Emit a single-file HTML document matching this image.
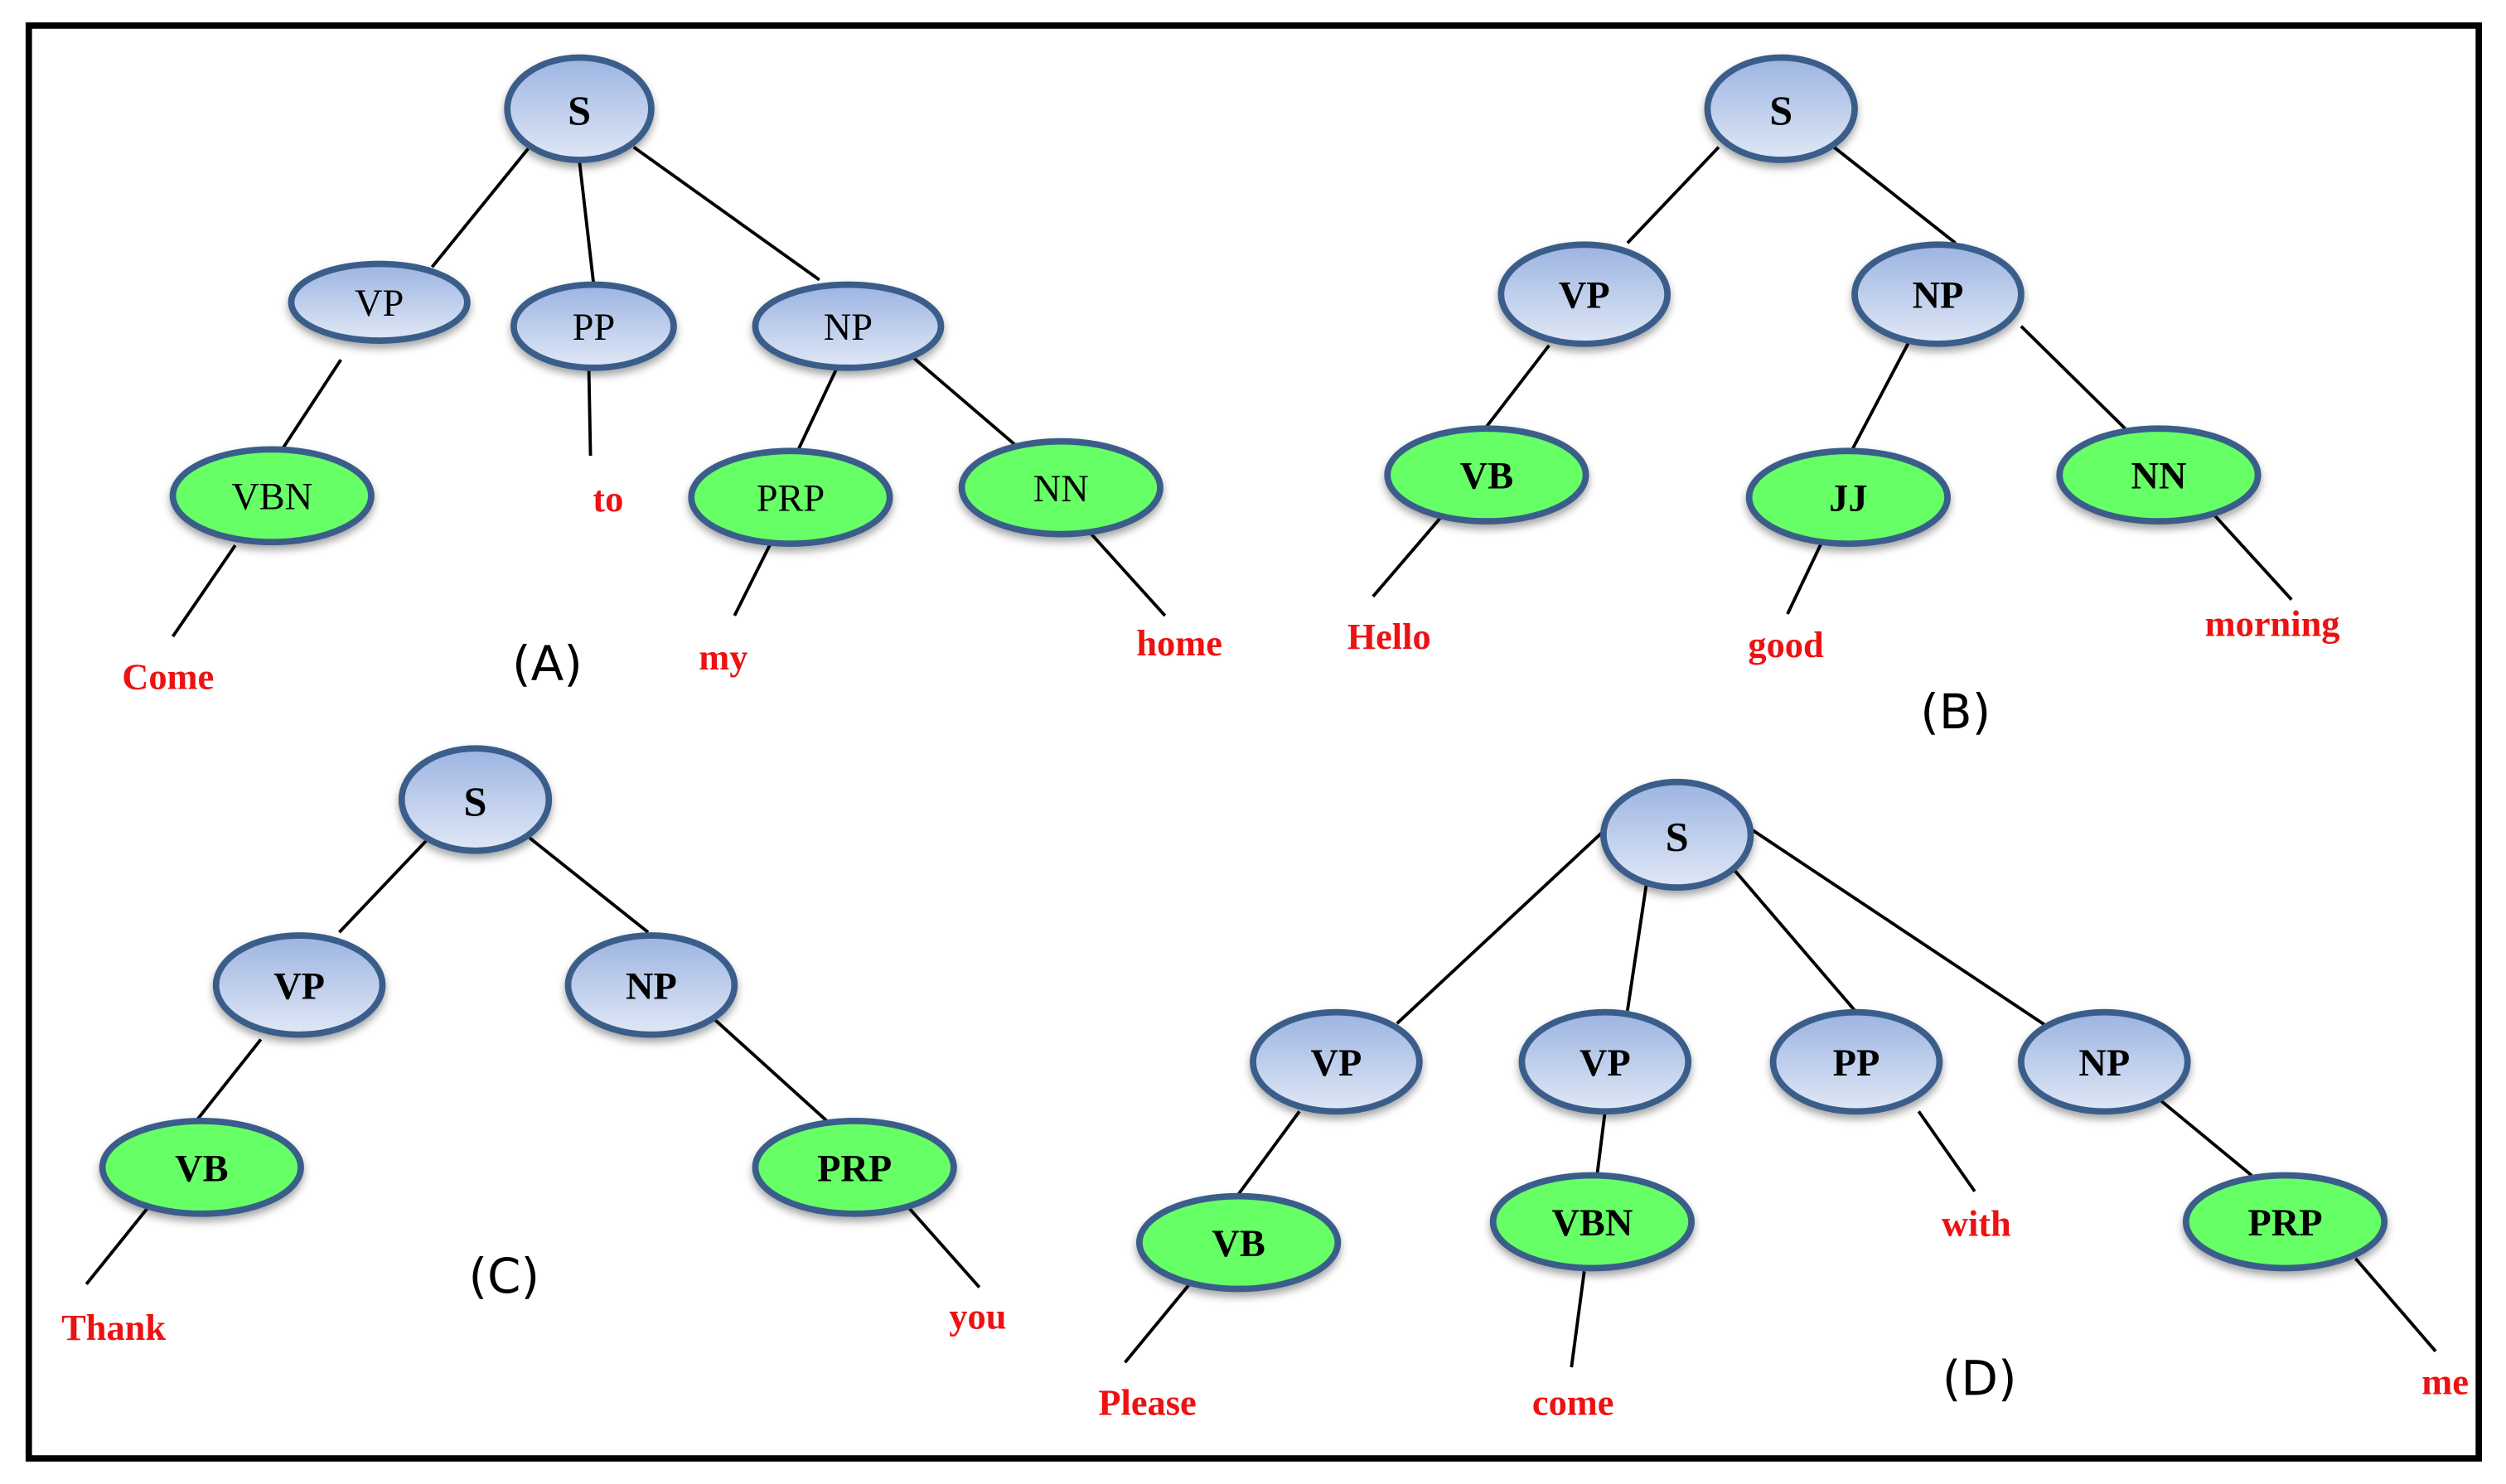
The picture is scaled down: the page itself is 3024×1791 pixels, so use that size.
<!DOCTYPE html>
<html><head><meta charset="utf-8"><style>
html,body{margin:0;padding:0;background:#fff;}
svg{display:block;}
</style></head><body>
<svg width="3024" height="1791" viewBox="0 0 1566 928" xmlns="http://www.w3.org/2000/svg" preserveAspectRatio="none">
<defs>
<linearGradient id="bg" x1="0" y1="0" x2="0" y2="1">
<stop offset="0" stop-color="#9cb4e2"/><stop offset="1" stop-color="#e0e8f6"/>
</linearGradient>
<filter id="sh" x="-20%" y="-20%" width="140%" height="150%">
<feDropShadow dx="0" dy="3" stdDeviation="2.5" flood-color="#000" flood-opacity="0.35"/>
</filter>
<style>
.b{fill:url(#bg);stroke:#3b5d8a;stroke-width:4;filter:url(#sh);}
.g{fill:#66ff66;stroke:#3b5d8a;stroke-width:4;filter:url(#sh);}
.l{stroke:#000;stroke-width:2;}
.t{font-family:"Liberation Serif",serif;font-size:24px;text-anchor:middle;dominant-baseline:central;fill:#000;}
.tb{font-family:"Liberation Serif",serif;font-size:24px;font-weight:bold;text-anchor:middle;dominant-baseline:central;fill:#000;}
.s{font-size:26px;}
.r{font-family:"Liberation Serif",serif;font-size:23px;font-weight:bold;text-anchor:middle;dominant-baseline:central;fill:#ee1111;}
.c{font-family:"DejaVu Sans","Liberation Sans",sans-serif;font-size:30px;text-anchor:middle;dominant-baseline:central;fill:#000;}
</style>
</defs>
<rect x="18" y="16" width="1531" height="896" fill="none" stroke="#000" stroke-width="4"/>

<g class="l">
<line x1="330" y1="93" x2="270" y2="167"/><line x1="362" y1="100" x2="371" y2="178"/><line x1="396" y1="92" x2="512" y2="175"/>
<line x1="213" y1="225" x2="175" y2="283"/><line x1="368" y1="232" x2="369" y2="285"/><line x1="523" y1="230" x2="498" y2="283"/>
<line x1="570" y1="223" x2="640" y2="283"/><line x1="147" y1="341" x2="108" y2="398"/><line x1="484" y1="335" x2="459" y2="385"/>
<line x1="682" y1="334" x2="728" y2="385"/>
<line x1="1074" y1="92" x2="1017" y2="152"/><line x1="1146" y1="92" x2="1222" y2="152"/><line x1="968" y1="216" x2="928" y2="268"/>
<line x1="1197" y1="206" x2="1157" y2="282"/><line x1="1263" y1="204" x2="1328" y2="268"/><line x1="900" y1="324" x2="858" y2="373"/>
<line x1="1138" y1="340" x2="1117" y2="384"/><line x1="1380" y1="318" x2="1432" y2="375"/>
<line x1="268" y1="524" x2="212" y2="583"/><line x1="331" y1="524" x2="405" y2="583"/><line x1="163" y1="650" x2="121" y2="703"/>
<line x1="446" y1="637" x2="519" y2="703"/><line x1="95" y1="752" x2="54" y2="803"/><line x1="565" y1="752" x2="612" y2="805"/>
<line x1="1005" y1="517" x2="873" y2="640"/><line x1="1030" y1="545" x2="1017" y2="632"/><line x1="1082" y1="542" x2="1160" y2="633"/>
<line x1="1095" y1="519" x2="1278" y2="641"/><line x1="812" y1="695" x2="773" y2="748"/><line x1="1003" y1="695" x2="998" y2="735"/>
<line x1="1199" y1="695" x2="1234" y2="745"/><line x1="1350" y1="688" x2="1407" y2="735"/><line x1="745" y1="801" x2="703" y2="852"/>
<line x1="990" y1="795" x2="982" y2="855"/><line x1="1472" y1="787" x2="1522" y2="845"/>
</g>

<ellipse class="b" cx="362" cy="68" rx="45" ry="32"/><text class="tb s" x="362" y="69">S</text>
<ellipse class="b" cx="237" cy="189" rx="55" ry="24"/><text class="t" x="237" y="190">VP</text>
<ellipse class="b" cx="371" cy="204" rx="50" ry="26"/><text class="t" x="371" y="205">PP</text>
<ellipse class="b" cx="530" cy="204" rx="58" ry="26"/><text class="t" x="530" y="205">NP</text>
<ellipse class="g" cx="170" cy="310" rx="62" ry="29"/><text class="t" x="170" y="311">VBN</text>
<ellipse class="g" cx="494" cy="311" rx="62" ry="29"/><text class="t" x="494" y="312">PRP</text>
<ellipse class="g" cx="663" cy="305" rx="62" ry="29"/><text class="t" x="663" y="306">NN</text>
<text class="r" x="105" y="423">Come</text><text class="r" x="380" y="312">to</text><text class="r" x="452" y="411">my</text><text class="r" x="737" y="402">home</text>
<text class="c" x="342" y="415">(A)</text>

<ellipse class="b" cx="1113" cy="68" rx="46" ry="32"/><text class="tb s" x="1113" y="69">S</text>
<ellipse class="b" cx="990" cy="184" rx="52" ry="31"/><text class="tb" x="990" y="185">VP</text>
<ellipse class="b" cx="1211" cy="184" rx="52" ry="31"/><text class="tb" x="1211" y="185">NP</text>
<ellipse class="g" cx="929" cy="297" rx="62" ry="29"/><text class="tb" x="929" y="298">VB</text>
<ellipse class="g" cx="1155" cy="311" rx="62" ry="29"/><text class="tb" x="1155" y="312">JJ</text>
<ellipse class="g" cx="1349" cy="297" rx="62" ry="29"/><text class="tb" x="1349" y="298">NN</text>
<text class="r" x="868" y="398">Hello</text><text class="r" x="1116" y="403">good</text><text class="r" x="1420" y="390">morning</text>
<text class="c" x="1222" y="445">(B)</text>

<ellipse class="b" cx="297" cy="500" rx="46" ry="32"/><text class="tb s" x="297" y="501">S</text>
<ellipse class="b" cx="187" cy="616" rx="52" ry="31"/><text class="tb" x="187" y="617">VP</text>
<ellipse class="b" cx="407" cy="616" rx="52" ry="31"/><text class="tb" x="407" y="617">NP</text>
<ellipse class="g" cx="126" cy="730" rx="62" ry="29"/><text class="tb" x="126" y="731">VB</text>
<ellipse class="g" cx="534" cy="730" rx="62" ry="29"/><text class="tb" x="534" y="731">PRP</text>
<text class="r" x="71" y="830">Thank</text><text class="r" x="611" y="823">you</text>
<text class="c" x="315" y="798">(C)</text>

<ellipse class="b" cx="1048" cy="522" rx="46" ry="33"/><text class="tb s" x="1048" y="523">S</text>
<ellipse class="b" cx="835" cy="664" rx="52" ry="31"/><text class="tb" x="835" y="665">VP</text>
<ellipse class="b" cx="1003" cy="664" rx="52" ry="31"/><text class="tb" x="1003" y="665">VP</text>
<ellipse class="b" cx="1160" cy="664" rx="52" ry="31"/><text class="tb" x="1160" y="665">PP</text>
<ellipse class="b" cx="1315" cy="664" rx="52" ry="31"/><text class="tb" x="1315" y="665">NP</text>
<ellipse class="g" cx="774" cy="777" rx="62" ry="29"/><text class="tb" x="774" y="778">VB</text>
<ellipse class="g" cx="995" cy="764" rx="62" ry="29"/><text class="tb" x="995" y="765">VBN</text>
<ellipse class="g" cx="1428" cy="764" rx="62" ry="29"/><text class="tb" x="1428" y="765">PRP</text>
<text class="r" x="717" y="877">Please</text><text class="r" x="983" y="877">come</text><text class="r" x="1235" y="765">with</text><text class="r" x="1528" y="864">me</text>
<text class="c" x="1237" y="862">(D)</text>
</svg>
</body></html>
